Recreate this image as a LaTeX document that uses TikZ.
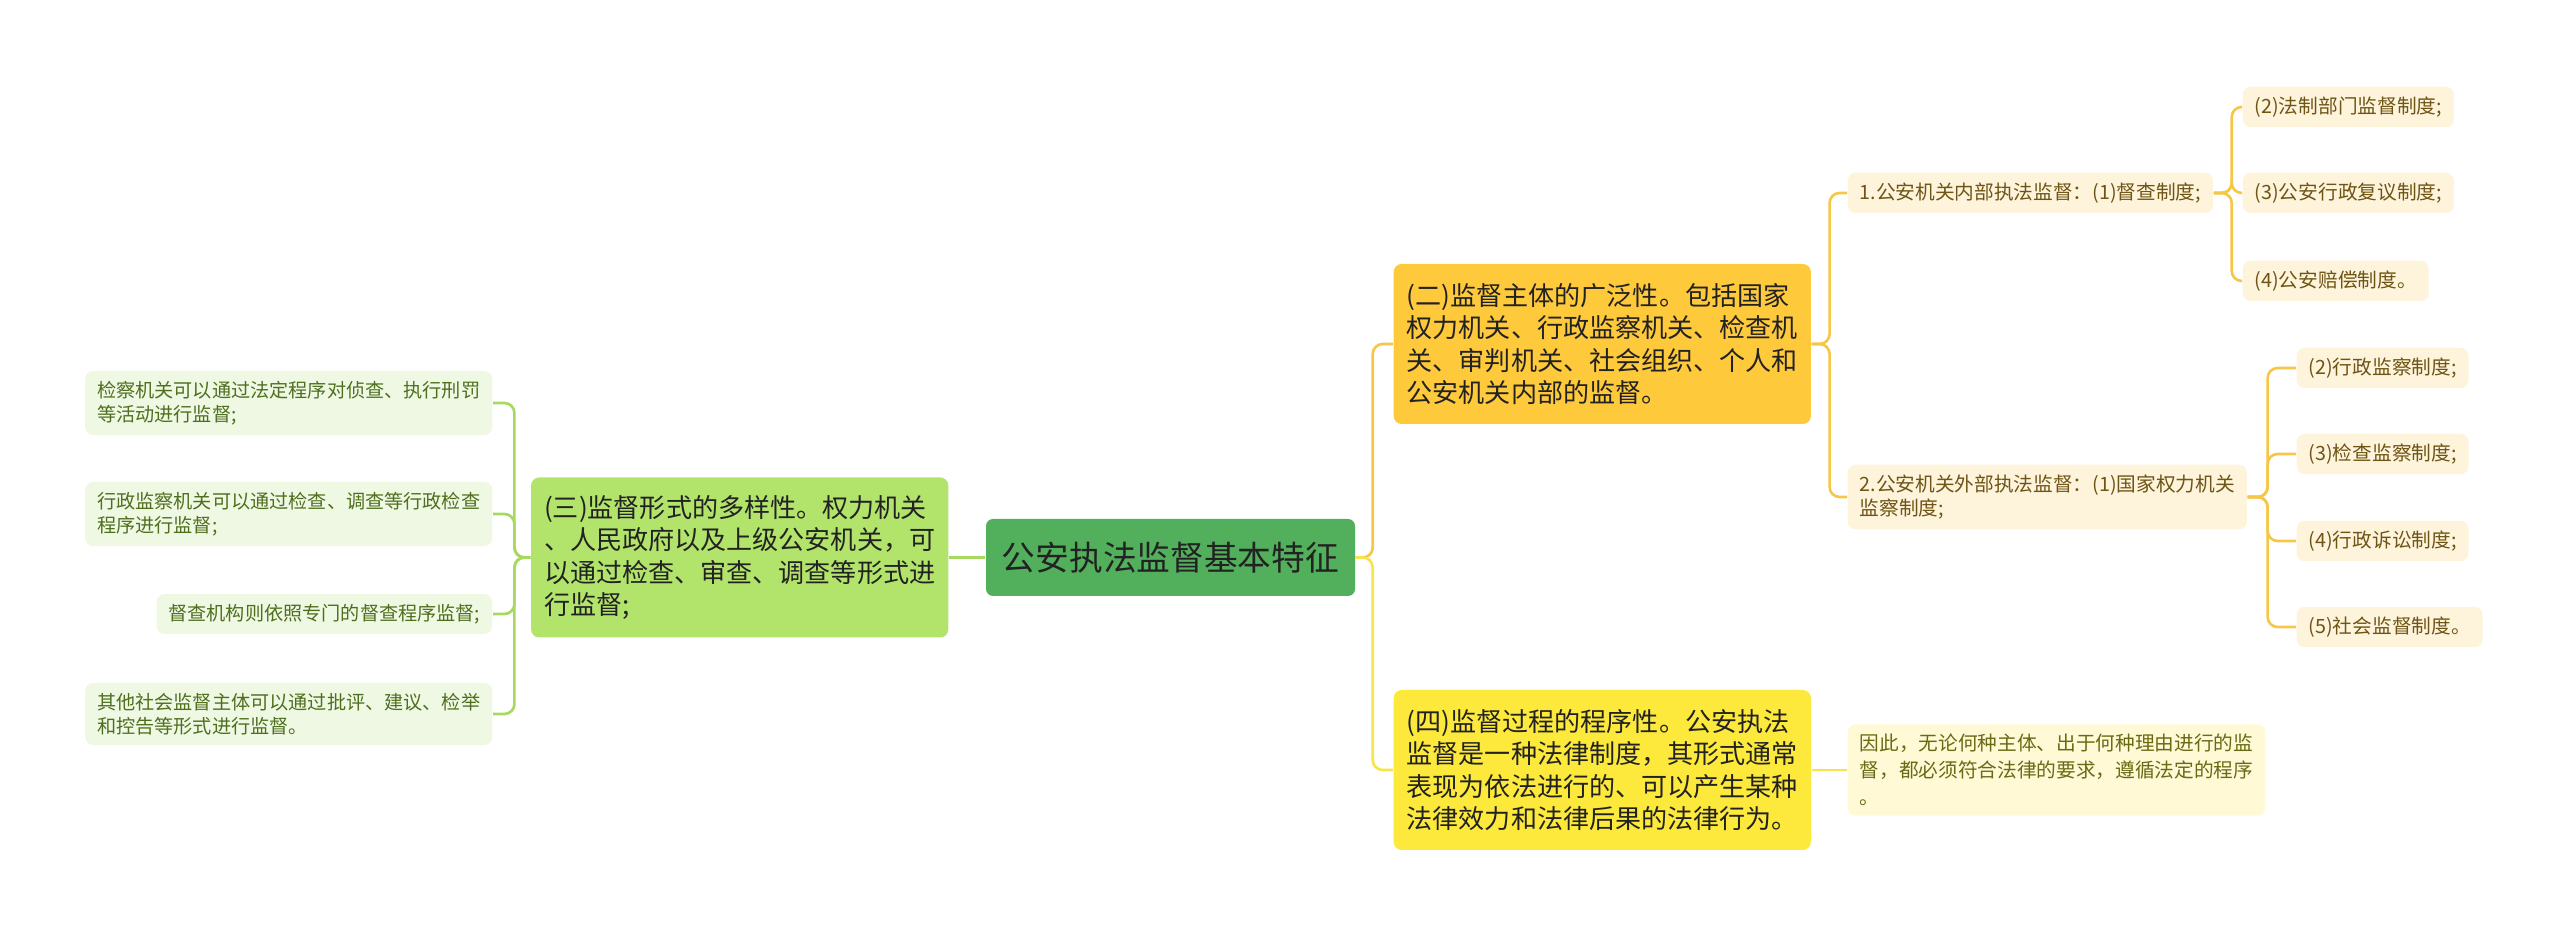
\documentclass[tikz,border=0pt]{standalone}
\usepackage{fontspec}
\setmainfont{Noto Sans CJK SC}
\usepackage{tikz}
\usetikzlibrary{positioning,calc}
\definecolor{rootgreen}{HTML}{52B05C}
\definecolor{sangreen}{HTML}{B2E36B}
\definecolor{leafgreen}{HTML}{EEF8E2}
\definecolor{leafgreentext}{HTML}{4F6F1F}
\definecolor{linegreen}{HTML}{A6D95E}
\definecolor{eramber}{HTML}{FFC93C}
\definecolor{siyellow}{HTML}{FCE93B}
\definecolor{lineorange}{HTML}{F6C646}
\definecolor{lineyellow}{HTML}{F7E34C}
\definecolor{leafcream}{HTML}{FEF4DB}
\definecolor{leafbrown}{HTML}{6E5415}
\definecolor{notefill}{HTML}{FFF9D6}
\definecolor{noteolive}{HTML}{6B6A14}
\definecolor{darktext}{HTML}{222222}

\begin{document}
\begin{tikzpicture}[
    topic/.style={fill=rootgreen, rounded corners=0.07cm, minimum width=3.69cm,
                  minimum height=0.77cm, text=darktext, font=\fontsize{9.6}{11}\selectfont},
    branch/.style={rounded corners=0.08cm, align=left, inner xsep=0.13cm,
                   minimum height=1.6cm, text=darktext, font=\fontsize{7.42}{9.2}\selectfont},
    leafl/.style={fill=leafgreen, text=leafgreentext, rounded corners=0.08cm, align=left,
                  inner xsep=0.12cm, inner ysep=0.1cm, font=\fontsize{5.45}{6.9}\selectfont},
    leafr/.style={fill=leafcream, text=leafbrown, rounded corners=0.08cm, align=left,
                  inner xsep=0.12cm, inner ysep=0.1cm, font=\fontsize{5.6}{6.9}\selectfont},
    note/.style={fill=notefill, text=noteolive, rounded corners=0.08cm, align=left,
                 inner xsep=0.12cm, inner ysep=0.1cm, font=\fontsize{5.6}{7.6}\selectfont},
    linkg/.style={draw=linegreen, line width=0.75pt, rounded corners=0.1cm},
    linko/.style={draw=lineorange, line width=0.75pt, rounded corners=0.1cm},
    linky/.style={draw=lineyellow, line width=0.75pt, rounded corners=0.1cm}
]
\useasboundingbox (0,0) rectangle (25.6,-9.36);

% --- centre ---
\node[topic] (root) at (11.705,-5.575) {公安执法监督基本特征};

% --- left side ---
\node[branch, fill=sangreen, anchor=east] (san) at (9.49,-5.575)
  {(三)监督形式的多样性。权力机关\\、人民政府以及上级公安机关，可\\以通过检查、审查、调查等形式进\\行监督;};

\node[leafl, anchor=east] (l1) at (4.93,-4.03)
  {检察机关可以通过法定程序对侦查、执行刑罚\\等活动进行监督;};
\node[leafl, anchor=east] (l2) at (4.93,-5.14)
  {行政监察机关可以通过检查、调查等行政检查\\程序进行监督;};
\node[leafl, anchor=east] (l3) at (4.93,-6.14)
  {督查机构则依照专门的督查程序监督;};
\node[leafl, anchor=east] (l4) at (4.93,-7.14)
  {其他社会监督主体可以通过批评、建议、检举\\和控告等形式进行监督。};

% --- right side ---
\node[branch, fill=eramber, anchor=west] (er) at (13.93,-3.44)
  {(二)监督主体的广泛性。包括国家\\权力机关、行政监察机关、检查机\\关、审判机关、社会组织、个人和\\公安机关内部的监督。};
\node[branch, fill=siyellow, anchor=west] (si) at (13.93,-7.70)
  {(四)监督过程的程序性。公安执法\\监督是一种法律制度，其形式通常\\表现为依法进行的、可以产生某种\\法律效力和法律后果的法律行为。};

\node[leafr, anchor=west] (n1) at (18.47,-1.93) {1.公安机关内部执法监督：(1)督查制度;};
\node[leafr, anchor=west] (n2) at (18.47,-4.97)
  {2.公安机关外部执法监督：(1)国家权力机关\\监察制度;};

\node[leafr, anchor=west] (a2) at (22.42,-1.07) {(2)法制部门监督制度;};
\node[leafr, anchor=west] (a3) at (22.42,-1.93) {(3)公安行政复议制度;};
\node[leafr, anchor=west] (a4) at (22.42,-2.81) {(4)公安赔偿制度。};

\node[leafr, anchor=west] (b2) at (22.96,-3.68) {(2)行政监察制度;};
\node[leafr, anchor=west] (b3) at (22.96,-4.54) {(3)检查监察制度;};
\node[leafr, anchor=west] (b4) at (22.96,-5.41) {(4)行政诉讼制度;};
\node[leafr, anchor=west] (b5) at (22.96,-6.27) {(5)社会监督制度。};

\node[note, anchor=west] (yc) at (18.47,-7.70)
  {因此，无论何种主体、出于何种理由进行的监\\督，都必须符合法律的要求，遵循法定的程序\\。};

% --- connectors ---
\draw[linkg] (san.east) -- (root.west);
\foreach \n in {l1,l2,l3,l4}
  \draw[linkg] (san.west) -- ++(-0.16,0) |- (\n.east);
\draw[linko] (root.east) -- ++(0.17,0) |- (er.west);
\draw[linky] (root.east) -- ++(0.17,0) |- (si.west);
\foreach \n in {n1,n2}
  \draw[linko] (er.east) -- ++(0.18,0) |- (\n.west);
\foreach \n in {a2,a3,a4}
  \draw[linko] (n1.east) -- ++(0.18,0) |- (\n.west);
\foreach \n in {b2,b3,b4,b5}
  \draw[linko] (n2.east) -- ++(0.2,0) |- (\n.west);
\draw[linky] (si.east) -- (yc.west);

\end{tikzpicture}
\end{document}
